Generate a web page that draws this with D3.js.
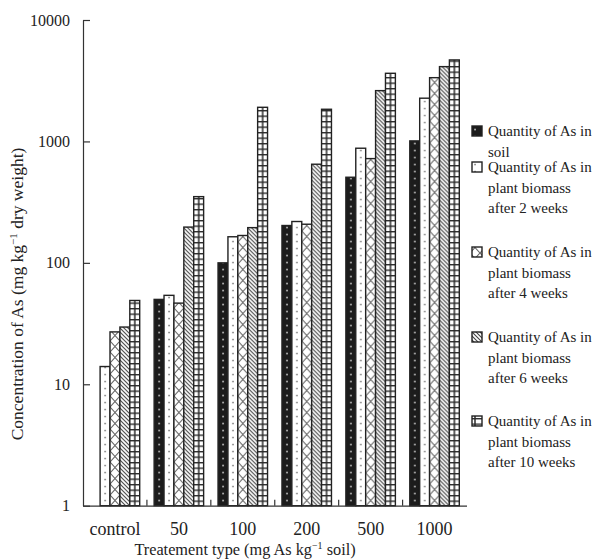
<!DOCTYPE html>
<html><head><meta charset="utf-8">
<script src="https://cdn.jsdelivr.net/npm/d3@7"></script>
<style>body{margin:0;background:#fff}svg{display:block;font-family:"Liberation Serif","Times New Roman",serif}</style>
</head><body>
<svg id="c" width="601" height="560"></svg>
<script>
const categories = ["control","50","100","200","500","1000"];
const soil  = [null, 50, 100, 203, 507, 1010];
const wk2   = [14, 54, 164, 219, 879, 2270];
const wk4   = [27, 46.6, 168, 208, 722, 3350];
const wk6   = [29.6, 197, 195, 649, 2620, 4130];
const wk10  = [49, 351, 1910, 1840, 3640, 4690];
const legendLines = [["Quantity of As in","soil"],["Quantity of As in","plant biomass","after 2 weeks"],["Quantity of As in","plant biomass","after 4 weeks"],["Quantity of As in","plant biomass","after 6 weeks"],["Quantity of As in","plant biomass","after 10 weeks"]];
const yTicks = [1,10,100,1000,10000];
const seriesValues = [soil, wk2, wk4, wk6, wk10];
const patIds = ["pSoil","p2","p4","p6","p10"];

const svg = d3.select("#c");
const defs = svg.append("defs");
let p = defs.append("pattern").attr("id","pSoil").attr("patternUnits","userSpaceOnUse").attr("width",10).attr("height",7);
p.append("rect").attr("width",10).attr("height",7).attr("fill","#1c1c1c");
p.append("rect").attr("x",4.2).attr("y",2.7).attr("width",1.7).attr("height",1.7).attr("fill","#b8b8b8");
p = defs.append("pattern").attr("id","p2").attr("patternUnits","userSpaceOnUse").attr("width",10).attr("height",7);
p.append("rect").attr("width",10).attr("height",7).attr("fill","#fff");
p.append("rect").attr("x",4.3).attr("y",2.8).attr("width",1.5).attr("height",1.5).attr("fill","#777");
p = defs.append("pattern").attr("id","p4").attr("patternUnits","userSpaceOnUse").attr("width",10).attr("height",11);
p.append("rect").attr("width",10).attr("height",11).attr("fill","#fff");
p.append("path").attr("d","M0,0L10,11M10,0L0,11").attr("stroke","#666").attr("stroke-width",1.1).attr("fill","none");
p = defs.append("pattern").attr("id","p6").attr("patternUnits","userSpaceOnUse").attr("width",4).attr("height",4);
p.append("rect").attr("width",4).attr("height",4).attr("fill","#fff");
p.append("path").attr("d","M-1,-1L5,5M-1,3L1,5M3,-1L5,1").attr("stroke","#444").attr("stroke-width",1.1).attr("fill","none");
p = defs.append("pattern").attr("id","p10").attr("patternUnits","userSpaceOnUse").attr("width",10).attr("height",5.5);
p.append("rect").attr("width",10).attr("height",5.5).attr("fill","#fff");
p.append("path").attr("d","M0,0.6H10M5,0V5.5").attr("stroke","#2a2a2a").attr("stroke-width",1.5).attr("fill","none");

const y = d3.scaleLog().domain([1,10000]).range([505.7,20]);
const x0 = d3.scaleBand().domain(categories).range([83,466.5]).padding(0);
const bw = 9.9;
const off = (x0.bandwidth() - bw*5)/2;

categories.forEach((c,i)=>{
  seriesValues.forEach((vals,s)=>{
    const v = vals[i];
    if (v == null) return;
    const bx = x0(c) + off + s*bw;
    const g = svg.append("g").attr("transform",`translate(${bx},0)`);
    g.append("rect").attr("x",0).attr("y",y(v)).attr("width",bw).attr("height",y(1)-y(v))
      .attr("fill",`url(#${patIds[s]})`).attr("stroke","#222").attr("stroke-width",1.4);
  });
});

const yAxis = d3.axisLeft(y).tickValues(yTicks).tickFormat(d3.format("d")).tickSizeInner(-7).tickSizeOuter(0).tickPadding(13);
const ga = svg.append("g").attr("transform","translate(83,0)").call(yAxis);
ga.selectAll("path,line").attr("stroke","#333").attr("stroke-width",1.2);
ga.selectAll("text").attr("font-size",16).attr("fill","#222").attr("font-family","Liberation Serif");

const xAxis = d3.axisBottom(x0).tickSize(0).tickPadding(17);
const gx = svg.append("g").attr("transform",`translate(0,${y(1)})`).call(xAxis);
gx.select("path").attr("stroke","#333").attr("stroke-width",1.2);
gx.selectAll("text").attr("font-size",18).attr("fill","#222").attr("font-family","Liberation Serif");
categories.slice(1).forEach(c=>{
  svg.append("line").attr("x1",x0(c)).attr("x2",x0(c)).attr("y1",y(1)).attr("y2",y(1)-6).attr("stroke","#333").attr("stroke-width",1.2);
});

const xt = svg.append("text").attr("x",245).attr("y",555).attr("text-anchor","middle").attr("font-size",16.3).attr("fill","#222");
xt.append("tspan").text("Treatement type (mg As kg");
xt.append("tspan").attr("font-size",10).attr("dy",-6).text("\u22121");
xt.append("tspan").attr("dy",6).text(" soil)");

const yt = svg.append("text").attr("transform","translate(23,294) rotate(-90)").attr("text-anchor","middle").attr("font-size",17.5).attr("fill","#222");
yt.append("tspan").text("Concentration of As (mg kg");
yt.append("tspan").attr("font-size",11).attr("dy",-6).text("\u22121");
yt.append("tspan").attr("dy",6).text(" dry weight)");

const legTop = [131,167,252,337,421];
legendLines.forEach((lines,s)=>{
  const g = svg.append("g");
  g.append("rect").attr("x",472).attr("y",legTop[s]-5).attr("width",10).attr("height",10)
    .attr("fill",`url(#${patIds[s]})`).attr("stroke","#222").attr("stroke-width",1.4);
  lines.forEach((t,k)=>{
    g.append("text").attr("x",488).attr("y",legTop[s]+5+k*20.5).attr("font-size",15).attr("fill","#222").text(t);
  });
});
</script>
</body></html>
